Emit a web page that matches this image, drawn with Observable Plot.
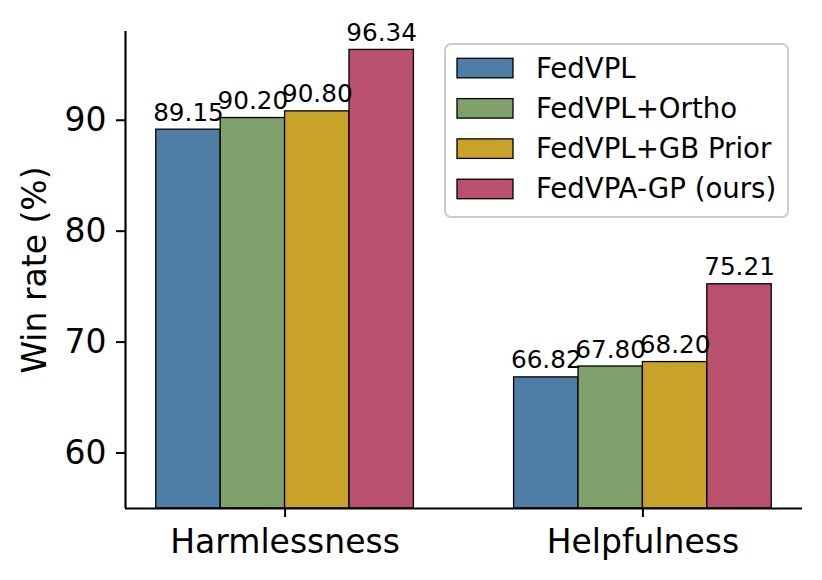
<!DOCTYPE html>
<html>
<head>
<meta charset="utf-8">
<script src="https://cdn.jsdelivr.net/npm/d3@7"></script>
<script src="https://cdn.jsdelivr.net/npm/@observablehq/plot@0.6"></script>
<style>
  body { margin: 0; background: #fff; }
  #chart { position: relative; width: 822px; height: 580px; font-family: "DejaVu Sans", sans-serif; }
  #chart svg.legend { position: absolute; left: 0; top: 0; pointer-events: none; }
</style>
</head>
<body>
<div id="chart"></div>
<script>
// Win-rate results per evaluation dimension
const categories = ["Harmlessness", "Helpfulness"];
const methods = ["FedVPL", "FedVPL+Ortho", "FedVPL+GB Prior", "FedVPA-GP (ours)"];
const methodColors = ["#4e7ea6", "#7fa06b", "#c9a22a", "#b8506e"];
const fedvpl = [89.15, 66.82];
const fedvplOrtho = [90.20, 67.80];
const fedvplGbPrior = [90.80, 68.20];
const fedvpaGp = [96.34, 75.21];
const yTicks = [60, 70, 80, 90];

const series = [fedvpl, fedvplOrtho, fedvplGbPrior, fedvpaGp];
const barWidth = 0.18;
const yDomain = [55, 98];
const xDomain = [-0.446, 1.446];

// one row per bar: grouped side by side around each category index
const rows = [];
methods.forEach((m, si) => {
  categories.forEach((c, gi) => {
    const x1 = gi + (si - methods.length / 2) * barWidth;
    rows.push({ method: m, category: c, x1, x2: x1 + barWidth, value: series[si][gi] });
  });
});

const chart = Plot.plot({
  width: 822,
  height: 580,
  marginLeft: 125,
  marginRight: 20,
  marginTop: 31,
  marginBottom: 72,
  style: { fontFamily: "DejaVu Sans, sans-serif", color: "black", background: "white", overflow: "visible" },
  x: { type: "linear", domain: xDomain },
  y: { domain: yDomain },
  color: { domain: methods, range: methodColors },
  marks: [
    Plot.rectY(rows, {
      x1: "x1", x2: "x2", y1: yDomain[0], y2: "value",
      fill: "method", stroke: "black", strokeWidth: 1.3
    }),
    Plot.text(rows, {
      x: d => (d.x1 + d.x2) / 2, y: "value",
      text: d => d.value.toFixed(2),
      lineAnchor: "bottom", dy: -9, fontSize: 24.7, fill: "black"
    }),
    Plot.axisY({
      ticks: yTicks, tickSize: 9, tickPadding: 10, fontSize: 33,
      strokeWidth: 2, label: null
    }),
    Plot.axisX({
      ticks: [0, 1], tickFormat: i => categories[i], tickSize: 9, tickPadding: 12,
      fontSize: 33, strokeWidth: 2, label: null
    }),
    Plot.text(["Win rate (%)"], {
      frameAnchor: "left", textAnchor: "middle", rotate: -90, dx: -80, lineAnchor: "bottom",
      fontSize: 33, fill: "black"
    }),
    Plot.ruleX([xDomain[0]], { y1: yDomain[0], y2: yDomain[1], stroke: "black", strokeWidth: 2.2 }),
    Plot.ruleY([yDomain[0]], { stroke: "black", strokeWidth: 2.2 })
  ]
});

const root = document.getElementById("chart");
root.appendChild(chart);

// legend box in the upper right of the plotting area
const color = chart.scale("color");
const legend = d3.select(root).append("svg")
  .attr("class", "legend")
  .attr("width", 822).attr("height", 580)
  .attr("font-family", "DejaVu Sans, sans-serif");

legend.append("rect")
  .attr("x", 445).attr("y", 44).attr("width", 343).attr("height", 173)
  .attr("rx", 6).attr("fill", "white").attr("fill-opacity", 0.8)
  .attr("stroke", "#cccccc").attr("stroke-width", 2);

const item = legend.selectAll("g.item").data(color.domain).join("g")
  .attr("class", "item")
  .attr("transform", (d, i) => `translate(0, ${i * 40.3})`);

item.append("rect")
  .attr("x", 457).attr("y", 58.3).attr("width", 56).attr("height", 19.5)
  .attr("fill", (d, i) => color.range[i]).attr("stroke", "black").attr("stroke-width", 1.3);

item.append("text")
  .attr("x", 536).attr("y", 77.5)
  .attr("font-size", 27.6).attr("fill", "black")
  .text(d => d);
</script>
</body>
</html>
